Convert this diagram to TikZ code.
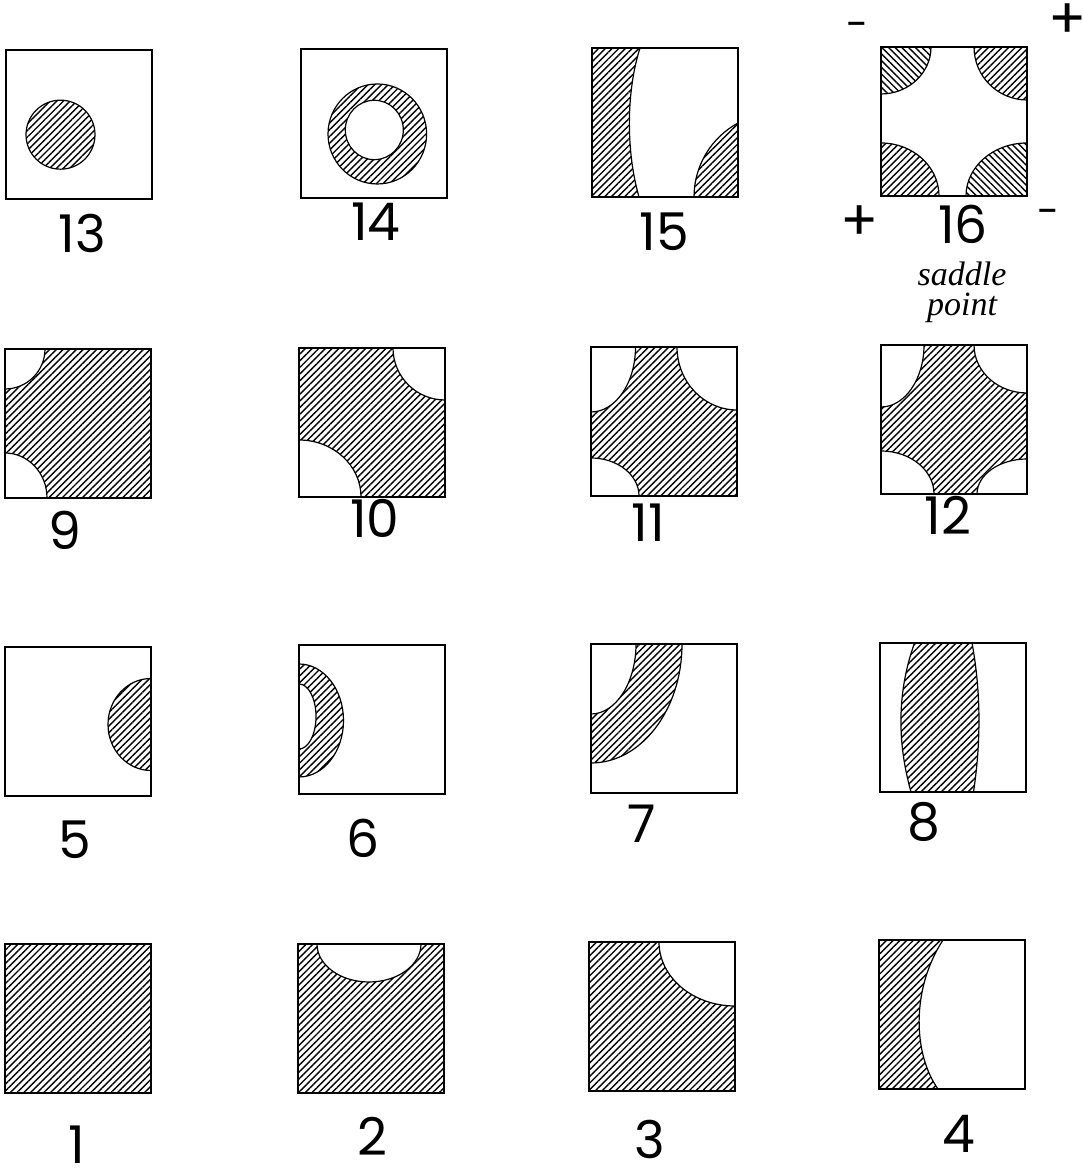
\documentclass[tikz,border=0pt]{standalone}
\usepackage{fontspec}
\setmainfont{Poppins}
\newfontfamily\notefont{Liberation Serif}
\usetikzlibrary{patterns.meta,positioning}

\tikzset{
  cell/.style={anchor=south west, inner sep=0pt, outer sep=0pt,
    minimum width=73pt, minimum height=74.5pt},
  frame/.style={line width=0.9pt},
  inside/.style={shift={(#1.south west)}},
  hatch/.style={pattern={Lines[angle=45,distance=2.37pt,line width=0.7pt]}},
  backhatch/.style={pattern={Lines[angle=-45,distance=2.37pt,line width=0.7pt]}},
  rim/.style={line width=0.6pt},
  num/.style={inner sep=0pt, font=\fontsize{26}{30}\selectfont},
  sign/.style={inner sep=0pt, font=\fontsize{28}{30}\selectfont},
  note/.style={inner sep=0pt, align=center, font=\notefont\itshape\fontsize{17}{15}\selectfont},
}

\begin{document}
\begin{tikzpicture}[x=0.5pt,y=0.5pt]
  \useasboundingbox (0,0) rectangle (1082,1170);

  % the sixteen cells
  \node[cell] (c1) at (5,77) {};
  \node[cell] (c2) at (298,77) {};
  \node[cell] (c3) at (589,79) {};
  \node[cell] (c4) at (879,81) {};
  \node[cell] (c5) at (5,374) {};
  \node[cell] (c6) at (299,376) {};
  \node[cell] (c7) at (591,377) {};
  \node[cell] (c8) at (880,378) {};
  \node[cell] (c9) at (5,672) {};
  \node[cell] (c10) at (299,673) {};
  \node[cell] (c11) at (591,674) {};
  \node[cell] (c12) at (881,676) {};
  \node[cell] (c13) at (6,971) {};
  \node[cell] (c14) at (301,972) {};
  \node[cell] (c15) at (592,973) {};
  \node[cell] (c16) at (881,974) {};

  % bottom row
  \begin{scope}[inside=c1]
    \fill[hatch] (0,0) rectangle (146,149);
  \end{scope}
  \begin{scope}[inside=c2]
    \clip (0,0) rectangle (146,149);
    \fill[hatch] (0,0) rectangle (146,149);
    \fill[white] (71,149) ellipse[x radius=52,y radius=38];
    \draw[rim] (19,149) arc[start angle=180,end angle=360,x radius=52,y radius=38];
  \end{scope}
  \begin{scope}[inside=c3]
    \clip (0,0) rectangle (146,149);
    \fill[hatch] (0,0) rectangle (146,149);
    \fill[white] (146,149) ellipse[x radius=76,y radius=64];
    \draw[rim] (70,149) arc[start angle=180,end angle=270,x radius=76,y radius=64];
  \end{scope}
  \begin{scope}[inside=c4]
    \fill[hatch] (0,0) -- (0,149) -- (64,149) .. controls (32,100) and (34,35) .. (59,0) -- cycle;
    \draw[rim] (64,149) .. controls (32,100) and (34,35) .. (59,0);
  \end{scope}

  % third row
  \begin{scope}[inside=c5]
    \clip (0,0) rectangle (146,149);
    \fill[hatch] (146,71.5) ellipse[x radius=43,y radius=46];
    \draw[rim] (146,117.5) arc[start angle=90,end angle=270,x radius=43,y radius=46];
  \end{scope}
  \begin{scope}[inside=c6]
    \clip (0,0) rectangle (146,149);
    \fill[hatch] (0,73.5) ellipse[x radius=44.5,y radius=56.5];
    \fill[white] (0,77.5) ellipse[x radius=17,y radius=32.5];
    \draw[rim] (0,130) arc[start angle=90,end angle=-90,x radius=44.5,y radius=56.5];
    \draw[rim] (0,110) arc[start angle=90,end angle=-90,x radius=17,y radius=32.5];
  \end{scope}
  \begin{scope}[inside=c7]
    \clip (0,0) rectangle (146,149);
    \fill[hatch] (0,149) ellipse[x radius=91,y radius=119];
    \fill[white] (0,149) ellipse[x radius=45,y radius=70];
    \draw[rim] (91,149) arc[start angle=0,end angle=-90,x radius=91,y radius=119];
    \draw[rim] (45,149) arc[start angle=0,end angle=-90,x radius=45,y radius=70];
  \end{scope}
  \begin{scope}[inside=c8]
    \fill[hatch] (34.5,149) .. controls (17,100) and (17,50) .. (31,0) -- (93.5,0)
      .. controls (101,50) and (101,100) .. (92,149) -- cycle;
    \draw[rim] (34.5,149) .. controls (17,100) and (17,50) .. (31,0);
    \draw[rim] (92,149) .. controls (101,100) and (101,50) .. (93.5,0);
  \end{scope}

  % second row
  \begin{scope}[inside=c9]
    \clip (0,0) rectangle (146,149);
    \fill[hatch] (0,0) rectangle (146,149);
    \fill[white] (0,149) circle[radius=40];
    \fill[white] (0,0) ellipse[x radius=42,y radius=45];
    \draw[rim] (40,149) arc[start angle=0,end angle=-90,radius=40];
    \draw[rim] (42,0) arc[start angle=0,end angle=90,x radius=42,y radius=45];
  \end{scope}
  \begin{scope}[inside=c10]
    \clip (0,0) rectangle (146,149);
    \fill[hatch] (0,0) rectangle (146,149);
    \fill[white] (146,149) circle[radius=52];
    \fill[white] (0,0) ellipse[x radius=62,y radius=57];
    \draw[rim] (94,149) arc[start angle=180,end angle=270,radius=52];
    \draw[rim] (62,0) arc[start angle=0,end angle=90,x radius=62,y radius=57];
  \end{scope}
  \begin{scope}[inside=c11]
    \clip (0,0) rectangle (146,149);
    \fill[hatch] (0,0) rectangle (146,149);
    \fill[white] (0,149) ellipse[x radius=44.5,y radius=65];
    \fill[white] (146,149) ellipse[x radius=60,y radius=63];
    \fill[white] (0,0) ellipse[x radius=48,y radius=38];
    \draw[rim] (44.5,149) arc[start angle=0,end angle=-90,x radius=44.5,y radius=65];
    \draw[rim] (86,149) arc[start angle=180,end angle=270,x radius=60,y radius=63];
    \draw[rim] (48,0) arc[start angle=0,end angle=90,x radius=48,y radius=38];
  \end{scope}
  \begin{scope}[inside=c12]
    \clip (0,0) rectangle (146,149);
    \fill[hatch] (0,0) rectangle (146,149);
    \fill[white] (0,149) ellipse[x radius=43,y radius=62];
    \fill[white] (146,149) ellipse[x radius=53,y radius=48];
    \fill[white] (0,0) ellipse[x radius=53,y radius=43];
    \fill[white] (146,0) ellipse[x radius=50,y radius=35];
    \draw[rim] (43,149) arc[start angle=0,end angle=-90,x radius=43,y radius=62];
    \draw[rim] (93,149) arc[start angle=180,end angle=270,x radius=53,y radius=48];
    \draw[rim] (53,0) arc[start angle=0,end angle=90,x radius=53,y radius=43];
    \draw[rim] (96,0) arc[start angle=180,end angle=90,x radius=50,y radius=35];
  \end{scope}

  % top row
  \begin{scope}[inside=c13]
    \fill[hatch] (54.5,64.3) circle[radius=34.5];
    \draw[rim] (54.5,64.3) circle[radius=34.5];
  \end{scope}
  \begin{scope}[inside=c14]
    \fill[hatch] (76.3,64) ellipse[x radius=49.3,y radius=50];
    \fill[white] (73.3,68) ellipse[x radius=29,y radius=29.7];
    \draw[rim] (76.3,64) ellipse[x radius=49.3,y radius=50];
    \draw[rim] (73.3,68) ellipse[x radius=29,y radius=29.7];
  \end{scope}
  \begin{scope}[inside=c15]
    \fill[hatch] (0,0) -- (0,149) -- (48,149) .. controls (34,105) and (34,45) .. (47,0) -- cycle;
    \draw[rim] (48,149) .. controls (34,105) and (34,45) .. (47,0);
    \fill[hatch] (102,0) arc[start angle=180,end angle=118.5,radius=84.2] -- (146,0) -- cycle;
    \draw[rim] (102,0) arc[start angle=180,end angle=118.5,radius=84.2];
  \end{scope}
  \begin{scope}[inside=c16]
    \clip (0,0) rectangle (146,149);
    \fill[backhatch] (0,149) ellipse[x radius=50,y radius=47];
    \fill[hatch] (146,149) circle[radius=53];
    \fill[hatch] (0,0) ellipse[x radius=58,y radius=53];
    \fill[backhatch] (146,0) ellipse[x radius=61,y radius=53];
    \draw[rim] (50,149) arc[start angle=0,end angle=-90,x radius=50,y radius=47];
    \draw[rim] (93,149) arc[start angle=180,end angle=270,radius=53];
    \draw[rim] (58,0) arc[start angle=0,end angle=90,x radius=58,y radius=53];
    \draw[rim] (85,0) arc[start angle=180,end angle=90,x radius=61,y radius=53];
  \end{scope}

  % frames on top of the hatching
  \foreach \i in {1,...,16}
    \draw[frame] (c\i.south west) rectangle (c\i.north east);

  % numbers
  \node[num] (n1) at (77,25) {1};
  \node[num] (n2) at (372,34) {2};
  \node[num] (n3) at (649.5,31) {3};
  \node[num] (n4) at (959,36) {4};
  \node[num] (n5) at (75,330) {5};
  \node[num] (n6) at (363,332) {6};
  \node[num] (n7) at (641.5,346) {7};
  \node[num] (n8) at (924,348) {8};
  \node[num] (n9) at (65,640) {9};
  \node[num] (n10) at (375,652) {10};
  \node[num] (n11) at (648.5,647) {11};
  \node[num] (n12) at (948,655) {12};
  \node[num] (n13) at (82,937) {13};
  \node[num] (n14) at (376,948) {14};
  \node[num] (n15) at (664.5,938.5) {15};
  \node[num] (n16) at (963,946) {16};

  % signs round the saddle
  \node[sign,font=\fontsize{20}{24}\selectfont] (m1) at (858,1140) {-};
  \node[sign] (p1) at (1068,1149) {+};
  \node[sign] (p2) at (860,947) {+};
  \node[sign,font=\fontsize{20}{24}\selectfont] (m2) at (1048,953) {-};
  \node[note] (sp) at (962,878) {saddle\\point};
\end{tikzpicture}
\end{document}
